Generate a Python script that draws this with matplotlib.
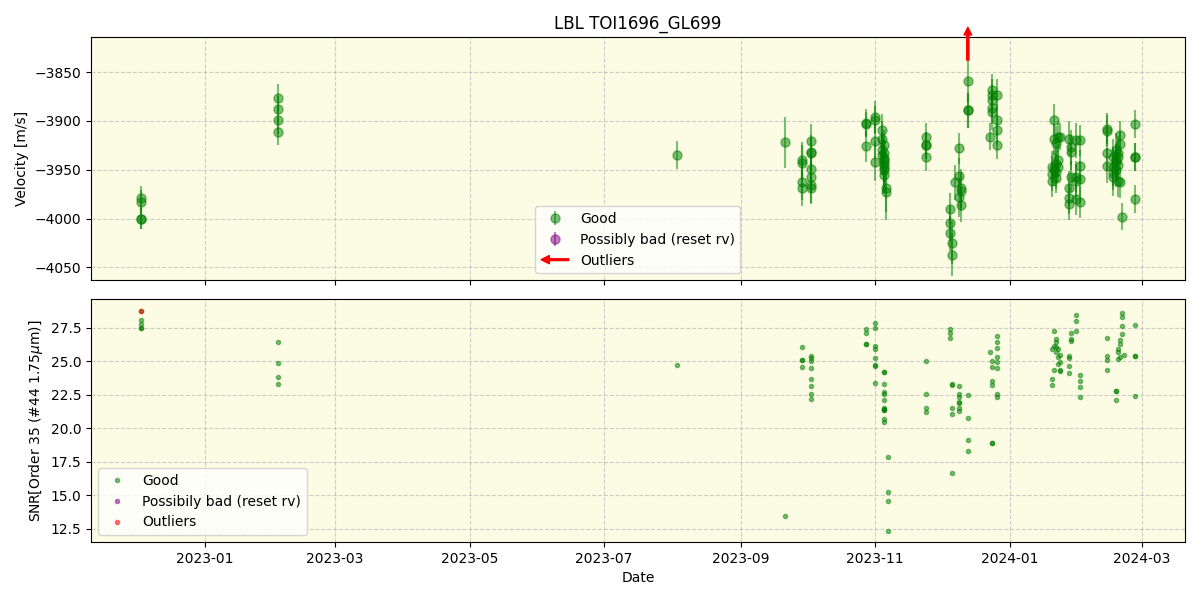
import matplotlib
matplotlib.use("Agg")
import matplotlib.pyplot as plt
import matplotlib.dates as mdates
import matplotlib.patches as mpatches
from matplotlib.legend_handler import HandlerPatch
import numpy as np
import pandas as pd

# ---------------- data ----------------
rv_dates = (["2022-12-03"] * 4 + ["2023-02-03"] * 4 + ["2023-08-03"] + ["2023-09-21"]
            + ["2023-09-29"] * 4 + ["2023-10-03"] * 7 + ["2023-10-28"] * 3 + ["2023-11-01"] * 4
            + ["2023-11-04"] * 4 + ["2023-11-05"] * 9 + ["2023-11-06"] * 2 + ["2023-11-24"] * 4
            + ["2023-12-05"] * 3 + ["2023-12-06"] * 2 + ["2023-12-07"] + ["2023-12-09"] * 3
            + ["2023-12-10"] * 3 + ["2023-12-13"] * 3 + ["2023-12-23"] + ["2023-12-24"] * 5
            + ["2023-12-26"] * 4 + ["2024-01-20"] * 3 + ["2024-01-21"] * 3 + ["2024-01-22"] * 4
            + ["2024-01-23"] * 3 + ["2024-01-24"] + ["2024-01-28"] * 4 + ["2024-01-29"] * 3
            + ["2024-01-31"] * 4 + ["2024-02-02"] * 4 + ["2024-02-14"] * 4 + ["2024-02-17"] * 4
            + ["2024-02-18"] * 4 + ["2024-02-19"] * 4 + ["2024-02-20"] * 3 + ["2024-02-21"]
            + ["2024-02-27"] * 4)
rv_values = [-3979, -3983, -4000, -4000,
             -3876, -3888, -3899, -3911,
             -3935,
             -3922,
             -3940, -3943, -3963, -3969,
             -3921, -3932, -3933, -3949, -3957, -3966, -3969,
             -3902, -3926, -3903,
             -3896, -3921, -3942, -3899,
             -3909, -3918, -3930, -3935,
             -3933, -3940, -3945, -3942, -3948, -3950, -3955, -3938, -3925,
             -3969, -3973,
             -3916, -3925, -3925, -3937,
             -3990, -4005, -4015,
             -4025, -4037,
             -3963,
             -3928, -3956, -3978,
             -3969, -3986, -3972,
             -3859, -3889, -3889,
             -3916,
             -3868, -3873, -3879, -3887, -3891,
             -3873, -3899, -3909, -3925,
             -3947, -3962, -3954,
             -3899, -3919, -3949,
             -3923, -3944, -3952, -3958,
             -3916, -3940, -3947,
             -3916,
             -3918, -3969, -3979, -3985,
             -3927, -3932, -3957,
             -3920, -3957, -3962, -3980,
             -3920, -3946, -3959, -3983,
             -3908, -3910, -3933, -3946,
             -3937, -3947, -3957, -3953,
             -3930, -3942, -3940, -3950,
             -3933, -3937, -3945, -3962,
             -3914, -3924, -3963,
             -3998,
             -3903, -3937, -3937, -3980]
rv_errors = [12, 12, 11, 11,
             14, 14, 14, 14,
             14,
             26,
             18, 18, 18, 18,
             18, 18, 16, 18, 16, 18, 16,
             14, 16, 12,
             16, 18, 20, 14,
             16, 18, 18, 20,
             20, 20, 18, 22, 22, 24, 20, 18, 16,
             24, 28,
             14, 14, 14, 14,
             16, 18, 18,
             22, 22,
             18,
             16, 18, 20,
             20, 18, 20,
             22, 18, 18,
             14,
             16, 16, 16, 16, 18,
             16, 16, 16, 14,
             16, 16, 18,
             16, 16, 18,
             18, 18, 18, 16,
             16, 16, 16,
             14,
             18, 18, 16, 16,
             18, 18, 16,
             18, 16, 18, 16,
             16, 16, 18, 16,
             16, 16, 18, 18,
             18, 20, 20, 18,
             18, 18, 16, 18,
             18, 18, 16, 16,
             14, 14, 16,
             14,
             14, 14, 14, 14]

rv_outlier_dates = ["2023-12-13"]

snr_dates = (["2022-12-03"] * 5 + ["2023-02-03"] * 4 + ["2023-08-03"] + ["2023-09-21"]
             + ["2023-09-29"] * 4 + ["2023-10-03"] * 8 + ["2023-10-28"] * 4 + ["2023-11-01"] * 8
             + ["2023-11-05"] * 12 + ["2023-11-07"] * 4 + ["2023-11-24"] * 4 + ["2023-12-05"] * 3
             + ["2023-12-06"] * 5 + ["2023-12-09"] * 7 + ["2023-12-13"] * 4
             + ["2023-12-23"] + ["2023-12-24"] * 6 + ["2023-12-26"] * 8
             + ["2024-01-20"] * 3 + ["2024-01-21"] * 3 + ["2024-01-22"] * 4 + ["2024-01-23"] * 3
             + ["2024-01-24"] * 4 + ["2024-01-28"] * 4 + ["2024-01-29"] * 3 + ["2024-01-31"] * 3
             + ["2024-02-02"] * 4 + ["2024-02-14"] * 4 + ["2024-02-18"] * 3 + ["2024-02-19"] * 3
             + ["2024-02-20"] * 3 + ["2024-02-21"] * 4 + ["2024-02-22"] + ["2024-02-27"] * 4)
snr_values = [28.74, 28.09, 27.77, 27.48, 27.48,
              26.44, 24.90, 23.86, 23.34,
              24.70,
              13.45,
              26.09, 25.07, 25.07, 24.58,
              25.42, 25.25, 25.00, 24.51, 23.69, 23.17, 22.60, 22.20,
              27.40, 27.10, 26.30, 26.30,
              27.85, 27.48, 26.16, 25.92, 25.25, 24.73, 24.63, 23.40,
              24.23, 24.23, 23.32, 22.70, 22.58, 22.13, 21.54, 21.41, 21.34, 21.34, 20.72, 20.47,
              17.90, 15.23, 14.56, 12.33,
              25.03, 22.58, 21.54, 21.24,
              27.40, 27.15, 26.74,
              23.30, 23.26, 21.54, 21.10, 16.70,
              23.17, 22.58, 22.33, 21.95, 21.88, 21.50, 21.26,
              22.50, 20.80, 19.15, 18.35,
              25.70,
              25.03, 24.60, 23.57, 23.25, 18.90, 18.90,
              22.58, 22.36, 24.53, 24.97, 25.29, 25.99, 26.44, 26.88,
              25.92, 23.69, 23.20,
              27.28, 26.16, 24.38,
              26.70, 26.46, 26.04, 25.67,
              25.92, 25.35, 24.80,
              25.47, 24.92, 24.38, 24.25,
              25.42, 25.22, 24.68, 24.14,
              27.15, 26.66, 26.53,
              28.44, 28.00, 27.28,
              23.99, 23.54, 23.12, 22.36,
              26.74, 25.37, 25.07, 24.38,
              22.77, 22.77, 22.13,
              25.92, 25.67, 25.18,
              25.30, 26.61, 26.33,
              27.03, 27.65, 28.32, 28.61,
              25.47,
              27.70, 25.40, 25.40, 22.45]

snr_outlier_dates = ["2022-12-03"]
snr_outlier_values = [28.74]

title = "LBL TOI1696_GL699"

# ---------------- plot ----------------
rv_t = pd.to_datetime(rv_dates)
snr_t = pd.to_datetime(snr_dates)

fig, (ax1, ax2) = plt.subplots(2, 1, figsize=(12, 6), dpi=100, sharex=True)
fig.subplots_adjust(left=0.0758, right=0.9875, top=0.9383, bottom=0.0967, hspace=0.078)

bg = "#fcfbe3"
for ax in (ax1, ax2):
    ax.set_facecolor(bg)
    ax.grid(True, linestyle="--", color="#b0b0b0", alpha=0.6)
    ax.set_axisbelow(True)

# top panel
h_good = ax1.errorbar(rv_t, rv_values, yerr=rv_errors, fmt="o", color="green",
                      alpha=0.5, markersize=6.5, label="Good")
h_bad = ax1.errorbar(pd.to_datetime([]), [], yerr=[], fmt="o", color="purple",
                     alpha=0.5, markersize=6.5, label="Possibly bad (reset rv)")
for d in pd.to_datetime(rv_outlier_dates):
    ax1.annotate("", xy=(d, 1.04), xycoords=("data", "axes fraction"),
                 xytext=(d, 0.905), textcoords=("data", "axes fraction"),
                 arrowprops=dict(facecolor="red", edgecolor="red", width=1.6,
                                 headwidth=5.5, headlength=5.5, shrink=0),
                 annotation_clip=False)

arrow_proxy = mpatches.FancyArrow(0, 0, 1, 0, color="red")


def make_legend_arrow(legend, orig_handle, xdescent, ydescent, width, height, fontsize):
    return mpatches.FancyArrow(width, 0.5 * height, -width, 0, length_includes_head=True,
                               width=1.3, head_width=6.0, head_length=6.0, color="red")


ax1.legend([h_good, h_bad, arrow_proxy], ["Good", "Possibly bad (reset rv)", "Outliers"],
           loc="lower center", handler_map={mpatches.FancyArrow: HandlerPatch(patch_func=make_legend_arrow)})
ax1.set_ylabel("Velocity [m/s]")
ax1.set_title(title)
ax1.set_ylim(-4063, -3814)
ax1.tick_params(labelbottom=False)

# bottom panel
ax2.plot(snr_t, snr_values, "o", color="green", alpha=0.5, markersize=3, label="Good")
ax2.plot(pd.to_datetime([]), [], "o", color="purple", alpha=0.5, markersize=3,
         label="Possibily bad (reset rv)")
ax2.plot(pd.to_datetime(snr_outlier_dates), snr_outlier_values, "o", color="red", alpha=0.5,
         markersize=3, label="Outliers")
ax2.legend(loc="lower left")
ax2.set_ylabel(r"SNR[Order 35 (#44 1.75$\mu$m)]")
ax2.set_xlabel("Date")
ax2.set_ylim(11.53, 29.65)

ax2.set_xlim(pd.Timestamp("2022-11-10 06:00"), pd.Timestamp("2024-03-20 12:00"))
ax2.xaxis.set_major_locator(mdates.MonthLocator(bymonth=[1, 3, 5, 7, 9, 11]))
ax2.xaxis.set_major_formatter(mdates.DateFormatter("%Y-%m"))

fig.savefig("out.png", dpi=100)
